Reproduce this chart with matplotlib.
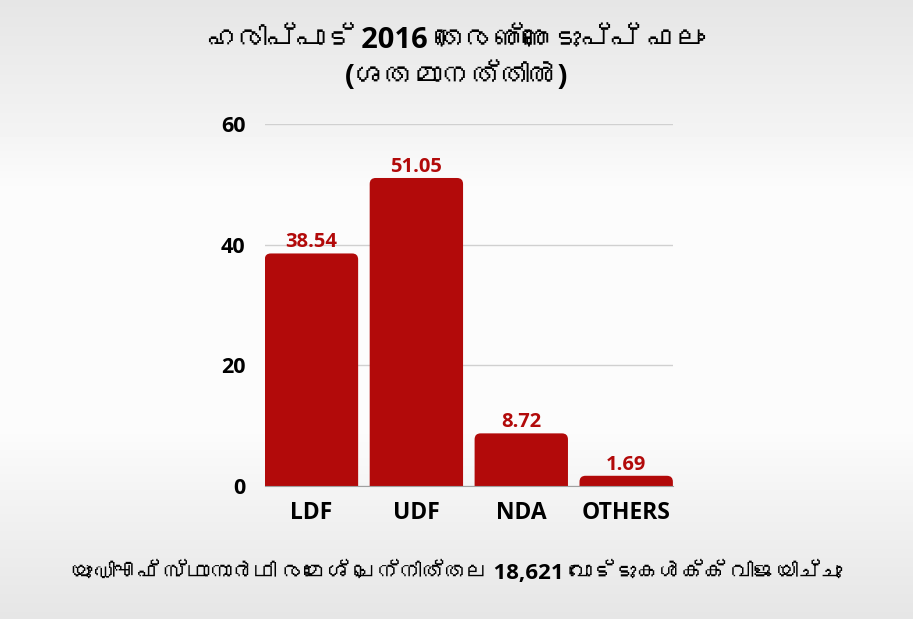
import matplotlib
matplotlib.use("Agg")
import numpy as np
import matplotlib.pyplot as plt
from matplotlib import font_manager
from matplotlib.ft2font import FT2Font
from matplotlib.patches import FancyBboxPatch

# Data
parties = ["LDF", "UDF", "NDA", "OTHERS"]
vote_share = [38.54, 51.05, 8.72, 1.69]
y_ticks = [0, 20, 40, 60]

title_text = "ഹരിപ്പാട് 2016 തെരഞ്ഞെടുപ്പ് ഫലം\n(ശതമാനത്തിൽ)"
footer_text = "യുഡിഎഫ് സ്ഥാനാർഥി രമേശ് ചെന്നിത്തല 18,621 വോട്ടുകൾക്ക് വിജയിച്ചു"

# look for any installed font that covers Malayalam (non-mono ones first)
mal_fonts = []
for f in font_manager.fontManager.ttflist:
    try:
        if 0x0D39 in FT2Font(f.fname).get_charmap() and f.name not in mal_fonts:
            mal_fonts.append(f.name)
    except Exception:
        pass
mal_fonts.sort(key=lambda n: "mono" in n.lower())

latin = ["Open Sans", "DejaVu Sans"]
plt.rcParams["font.family"] = ["Open Sans"] + mal_fonts + ["DejaVu Sans"]

red = "#b20a0a"

fig = plt.figure(figsize=(9.13, 6.19), dpi=100, facecolor="#f2f2f2")

# soft grey-white-grey background
bg = fig.add_axes([0, 0, 1, 1], zorder=-1)
rows = np.interp(np.linspace(0, 1, 200), [0, 0.2, 0.3, 0.7, 0.85, 1],
                 [0.90, 0.95, 0.985, 0.985, 0.94, 0.90])
bg.imshow(np.repeat(rows[:, None], 2, axis=1), cmap="gray", vmin=0, vmax=1,
          aspect="auto", extent=[0, 1, 0, 1], interpolation="bilinear")
bg.axis("off")

ax = fig.add_axes([0.290, 0.2149, 0.447, 0.5848])
ax.set_facecolor("none")
ax.set_xlim(-0.445, 3.445)
ax.set_ylim(0, 60)

x = range(len(parties))
bars = ax.bar(x, vote_share, width=0.89, color=red, zorder=3)

# rounded top corners: redraw each bar as a rounded box, bottom hidden below 0
px_x = ax.get_position().width * fig.get_figwidth() * fig.dpi / 3.89
px_y = ax.get_position().height * fig.get_figheight() * fig.dpi / 60
for b in bars:
    b.set_visible(False)
    rb = FancyBboxPatch((b.get_x(), -2), b.get_width(), b.get_height() + 2,
                        boxstyle="round,pad=0,rounding_size=%f" % (6 / px_x),
                        mutation_aspect=px_x / px_y,
                        facecolor=red, edgecolor="none", zorder=3)
    ax.add_patch(rb)

for b, v in zip(bars, vote_share):
    ax.text(b.get_x() + b.get_width() / 2, v + 0.2, f"{v:.2f}",
            ha="center", va="bottom", color=red, fontsize=14.5,
            fontweight="bold", family=latin, zorder=4)

ax.set_yticks(y_ticks)
ax.set_xticks(list(x))
ax.set_xticklabels(parties)
for lab in ax.get_xticklabels():
    lab.set_fontsize(16.5)
for lab in ax.get_yticklabels():
    lab.set_fontsize(15.5)
for lab in ax.get_xticklabels() + ax.get_yticklabels():
    lab.set_fontweight("bold")
    lab.set_family(latin)
ax.tick_params(axis="both", length=0)
ax.tick_params(axis="y", pad=14)
ax.tick_params(axis="x", pad=11)
ax.grid(axis="y", color="#d0d0d0", linewidth=1, zorder=0)
for s in ["top", "right", "left"]:
    ax.spines[s].set_visible(False)
ax.spines["bottom"].set_color("#a0a0a0")
ax.spines["bottom"].set_zorder(4)

fig.text(0.5, 0.905, title_text, ha="center", va="center", fontsize=21,
         fontweight="bold", linespacing=1.3)
fig.text(0.5, 0.076, footer_text, ha="center", va="center", fontsize=16,
         fontweight="bold")

fig.savefig("out.png", dpi=100, facecolor=fig.get_facecolor())
